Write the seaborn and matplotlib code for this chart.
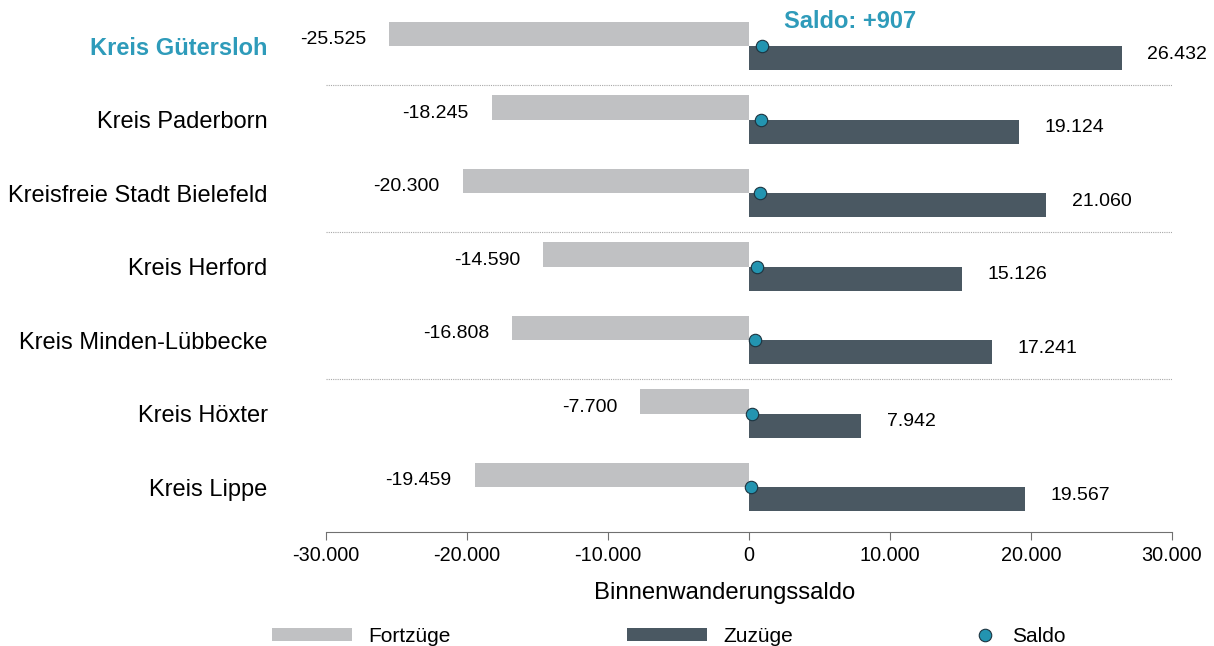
import matplotlib
matplotlib.use("Agg")
import matplotlib.pyplot as plt
from matplotlib.patches import Patch
from matplotlib.lines import Line2D
from matplotlib.ticker import FuncFormatter
import seaborn as sns
import pandas as pd
import numpy as np

# data
kreise = ["Kreis Gütersloh", "Kreis Paderborn", "Kreisfreie Stadt Bielefeld",
          "Kreis Herford", "Kreis Minden-Lübbecke", "Kreis Höxter", "Kreis Lippe"]
fortzuege = [-25525, -18245, -20300, -14590, -16808, -7700, -19459]
zuzuege = [26432, 19124, 21060, 15126, 17241, 7942, 19567]
saldo = [907, 879, 760, 536, 433, 242, 108]
highlight = "Kreis Gütersloh"
saldo_title = "Saldo: +907"
x_ticks = [-30000, -20000, -10000, 0, 10000, 20000, 30000]

GREY = "#C0C1C3"
DARK = "#4A5862"
TEAL = "#2394B0"
TEAL_TXT = "#2E9BBA"

sns.set_style("white")
plt.rcParams["font.family"] = ["Liberation Sans", "DejaVu Sans"]
plt.rcParams["text.color"] = "black"
plt.rcParams["axes.labelcolor"] = "black"
plt.rcParams["xtick.labelcolor"] = "black"
plt.rcParams["ytick.labelcolor"] = "black"

df = pd.DataFrame({
    "Kreis": kreise * 2,
    "Wert": fortzuege + zuzuege,
    "Art": ["Fortzüge"] * len(kreise) + ["Zuzüge"] * len(kreise),
})

fig = plt.figure(figsize=(12.14, 6.46), dpi=100)
ax = fig.add_axes([326 / 1214, 1 - 532 / 646, 846 / 1214, 522 / 646])

sns.barplot(data=df, y="Kreis", x="Wert", hue="Art", order=kreise,
            hue_order=["Fortzüge", "Zuzüge"], palette=[GREY, DARK],
            orient="h", width=0.66, dodge=True, legend=False,
            linewidth=0, saturation=1, ax=ax)

pos = np.arange(len(kreise))
sns.scatterplot(x=saldo, y=pos, color=TEAL, edgecolor="#1D3440",
                linewidth=0.8, s=80, zorder=5, legend=False, ax=ax)

# value labels
for i in range(len(kreise)):
    ax.annotate(f"{fortzuege[i]:,}".replace(",", "."), (fortzuege[i], i - 0.085),
                xytext=(-16.5, 0), textcoords="offset points",
                ha="right", va="center", fontsize=14, color="black")
    ax.annotate(f"{zuzuege[i]:,}".replace(",", "."), (zuzuege[i], i + 0.115),
                xytext=(18.5, 0), textcoords="offset points",
                ha="left", va="center", fontsize=14, color="black")

ax.text(2500, -0.33, saldo_title, color=TEAL_TXT, fontsize=17,
        fontweight="bold", ha="left", va="center")

# dotted separators between groups
for y in [0.53, 2.53, 4.53]:
    ax.axhline(y, color="#A8A8A8", linestyle=(0, (1, 1)), linewidth=0.8)

ax.set_xlim(-30000, 30000)
ax.set_ylim(6.612, -0.49)
ax.set_xticks(x_ticks)
ax.xaxis.set_major_formatter(FuncFormatter(lambda v, p: f"{int(v):,}".replace(",", ".")))
ax.tick_params(axis="x", direction="out", length=6, width=0.8, color="#707070",
               labelsize=14.3, pad=4, bottom=True, labelcolor="black")
ax.tick_params(axis="y", length=0, pad=42, labelsize=17, labelcolor="black")
for lab in ax.get_yticklabels():
    if lab.get_text() == highlight:
        lab.set_color(TEAL_TXT)
        lab.set_fontweight("bold")

for side in ["top", "right", "left"]:
    ax.spines[side].set_visible(False)
ax.spines["bottom"].set_color("#707070")
ax.spines["bottom"].set_linewidth(0.8)

ax.set_ylabel("")
ax.set_xlabel("Binnenwanderungssaldo", fontsize=17.2, color="black")
ax.xaxis.set_label_coords((724.5 - 326) / 846, (532 - 582) / 522)

# legend, three entries placed separately
leg_y = 1 - 636 / 646
entries = [
    (Patch(facecolor=GREY, edgecolor="none"), "Fortzüge", 272, 3.84),
    (Patch(facecolor=DARK, edgecolor="none"), "Zuzüge", 627, 3.84),
    (Line2D([], [], marker="o", linestyle="none", markersize=9,
            markerfacecolor=TEAL, markeredgecolor="#1D3440", markeredgewidth=0.8),
     "Saldo", 975, 1.0),
]
for handle, label, x0, hl in entries:
    leg = fig.legend([handle], [label], loc="center left",
                     bbox_to_anchor=(x0 / 1214, leg_y), frameon=False,
                     fontsize=15, handlelength=hl, handleheight=0.58,
                     handletextpad=0.77, borderpad=0, borderaxespad=0,
                     labelcolor="black")

fig.savefig("out.png", dpi=100)
